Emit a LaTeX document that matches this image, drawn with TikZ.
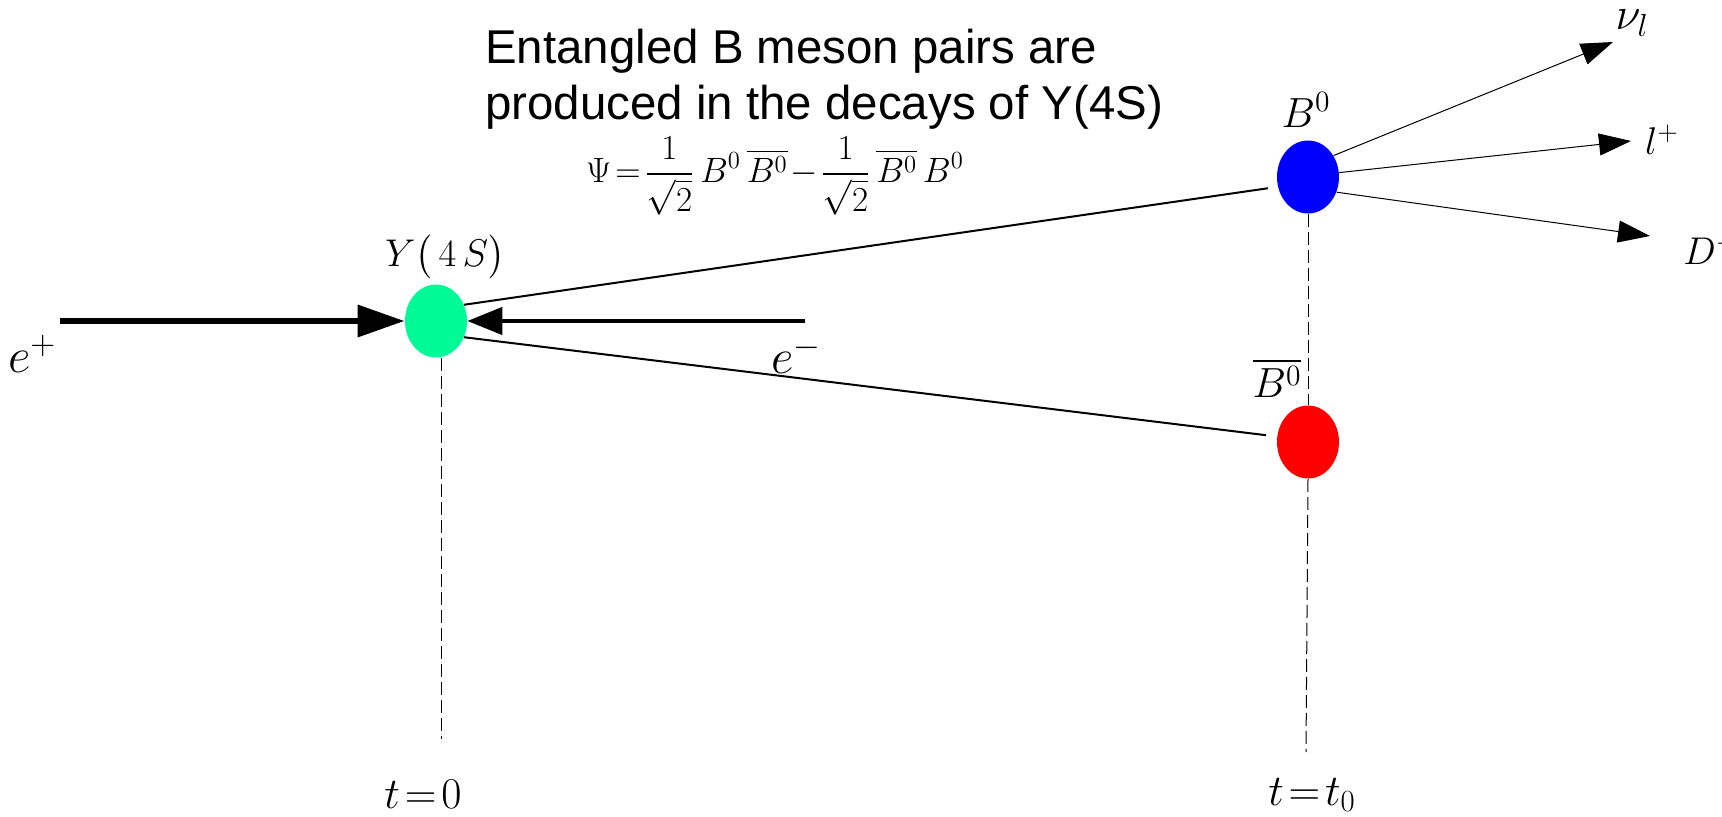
\RequirePackage{fix-cm}
\documentclass[tikz,border=0pt]{standalone}
\usepackage{amsmath}
\usepackage{fontspec}
\setsansfont{Liberation Sans}
\usepackage{tikz}
\usetikzlibrary{shapes.geometric, arrows.meta, positioning}
\definecolor{VerdeMenta}{RGB}{0, 250, 150}
\definecolor{AzulPuro}{RGB}{0, 0, 255}
\definecolor{RojoPuro}{RGB}{255, 0, 0}
\newcommand{\apretado}{\thickmuskip=2mu\relax\medmuskip=1.5mu\relax}

\begin{document}
\begin{tikzpicture}[
        x=0.02cm, y=-0.02cm,
        meson/.style={ellipse, inner sep=0pt, minimum width=1.24cm, minimum height=1.46cm},
        etiq/.style={inner sep=0pt, font=\fontsize{#1}{#1}\selectfont\apretado},
        etiq/.default=24,
        beam/.style={line width=0.13cm, -{Triangle[length=0.94cm, width=0.62cm]}},
        track/.style={line width=0.04cm},
        decay/.style={line width=0.02cm, -{Triangle[length=0.64cm, width=0.44cm]}},
        timeline/.style={line width=0.02cm, dash pattern=on 0.26cm off 0.1cm}
    ]
        \useasboundingbox (0,0) rectangle (1722,817);

        % ================= MESONES =================
        \node[meson, fill=VerdeMenta] (ups) at (436,321) {};
        \node[meson, fill=AzulPuro] (bcero) at (1308,177) {};
        \node[meson, fill=RojoPuro] (bbarra) at (1308,442) {};

        \node[etiq=22] (upslab) at (445,257) {$Y\big(\,4\,S\big)$};
        \node[etiq] (bcerolab) at (1306,110) {$B^0$};
        \node[etiq] (bbarlab) at (1277,378) {$\overline{B^0}$};

        % ================= HACES e+ e- =================
        \coordinate (epos) at (60,321);
        \coordinate (eneg) at (805,321);
        \draw[beam] (epos) -- (ups.west);
        \draw[beam, line width=0.09cm, -{Triangle[length=0.7cm, width=0.54cm]}] (eneg) -- (ups.east);

        \node[etiq=28] (eposlab) at (32,354) {$e^{+}$};
        \node[etiq=28] (eneglab) at (796,355) {$e^{-}$};

        % Pares B
        \draw[track, shorten >=0.2cm] (ups.30) -- (bcero.198);
        \draw[track, shorten >=0.22cm] (ups.-30) -- (bbarra.170);

        % ================= DESINTEGRACION B0 =================
        \coordinate (nutip) at (1613,42);
        \coordinate (leptip) at (1631,141);
        \coordinate (dtip) at (1650,236);
        \draw[decay] (bcero.40) -- (nutip);
        \draw[decay] (bcero.8) -- (leptip);
        \draw[decay] (bcero.-28) -- (dtip);

        \node[etiq=26] (nulab) at (1632,23) {$\nu_l$};
        \node[etiq=22] (leplab) at (1662,140) {$l^{+}$};
        \node[etiq=22, anchor=west] (dlab) at (1683,250) {$D^{-}$};

        % ================= TIEMPOS =================
        \coordinate (tfin0) at (441,739);
        \coordinate (tfin1) at (1306,752);
        \draw[timeline] (ups.south -| tfin0) -- (tfin0);
        \draw[timeline] (bcero.south) -- (bbarra.north);
        \draw[timeline] (bbarra.south) -- (tfin1);

        \node[etiq=25] (tcero) at (423,794) {$t=0$};
        \node[etiq=25] (tuno) at (1312,795) {$t=t_0$};

        % ================= TEXTO =================
        \node[anchor=north west, inner sep=0pt, align=left, font=\sffamily\fontsize{27}{32}\selectfont] (titulo) at (485,29) {Entangled B meson pairs are\\produced in the decays of Y(4S)};
        \node[etiq=20] (psi) at (775,176) {$\displaystyle \Psi=\frac{1}{\sqrt{2}}\,B^0\,\overline{B^0}-\frac{1}{\sqrt{2}}\,\overline{B^0}\,B^0$};
    \end{tikzpicture}
\end{document}
